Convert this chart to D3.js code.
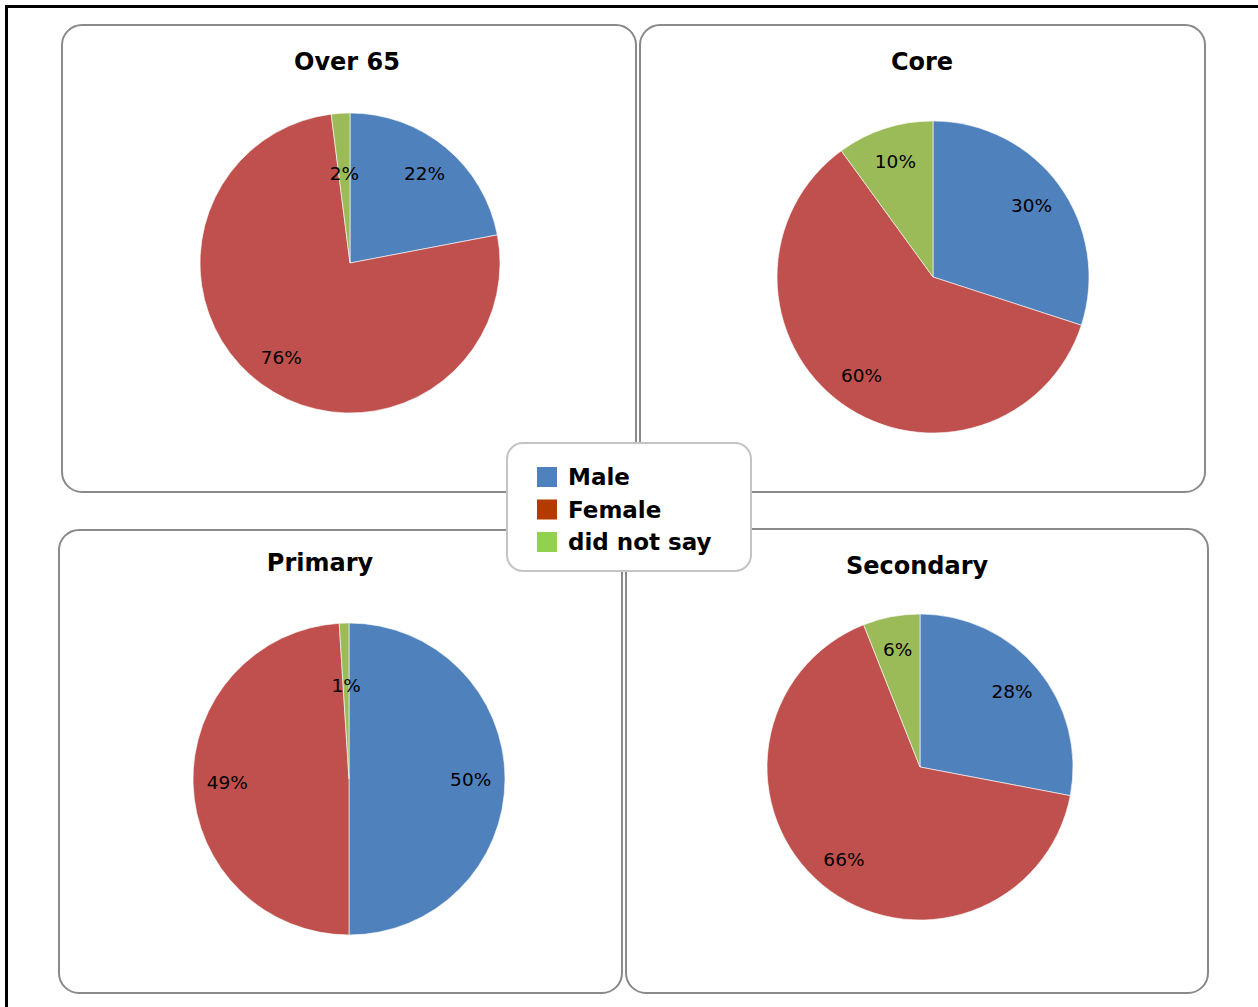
<!DOCTYPE html>
<html>
<head>
<meta charset="utf-8">
<script src="https://cdn.jsdelivr.net/npm/d3@7"></script>
<style>
  html, body { margin: 0; padding: 0; background: #fff; }
  svg { display: block; }
  text { font-family: "DejaVu Sans", Verdana, sans-serif; }
</style>
</head>
<body>
<svg id="chart" width="1258" height="1007"></svg>
<script>
// Gender split of respondents, per group (percent)
const groups = ["Over 65", "Core", "Primary", "Secondary"];
const seriesNames = ["Male", "Female", "did not say"];
const male = [22, 30, 50, 28];
const female = [76, 60, 49, 66];
const didNotSay = [2, 10, 1, 6];

// Slice and legend colours
const sliceColors = ["#4F81BD", "#C0504D", "#9BBB59"];
const legendColors = ["#4F81BD", "#B33A00", "#92D050"];

// Panel frames, pie placement and title anchors
const panels = [
  { x: 62, y: 25, w: 574, h: 467, cx: 350, cy: 263, r: 150, tx: 347, ty: 70 },
  { x: 640, y: 25, w: 565, h: 467, cx: 933, cy: 277, r: 156, tx: 922, ty: 70 },
  { x: 59, y: 530, w: 563, h: 463, cx: 349, cy: 779, r: 156, tx: 320, ty: 571 },
  { x: 626, y: 529, w: 582, h: 464, cx: 920, cy: 767, r: 153, tx: 917, ty: 574 }
];

const svg = d3.select("#chart");

// Outer frame
svg.append("rect")
  .attr("x", 6.5).attr("y", 6.5)
  .attr("width", 1300).attr("height", 1050)
  .attr("fill", "none").attr("stroke", "#000").attr("stroke-width", 3);

const pie = d3.pie().sort(null).value(d => d.value);
const pct = d3.format(".0%");

groups.forEach((name, i) => {
  const p = panels[i];
  const values = [male[i], female[i], didNotSay[i]];
  const data = values.map((v, k) => ({ name: seriesNames[k], value: v }));
  const total = d3.sum(values);

  const g = svg.append("g");

  g.append("rect")
    .attr("x", p.x).attr("y", p.y)
    .attr("width", p.w).attr("height", p.h)
    .attr("rx", 20).attr("ry", 20)
    .attr("fill", "#fff")
    .attr("stroke", "#8a8a8a").attr("stroke-width", 2);

  g.append("text")
    .attr("x", p.tx).attr("y", p.ty)
    .attr("text-anchor", "middle")
    .attr("font-size", 24).attr("font-weight", "bold")
    .attr("fill", "#000")
    .text(name);

  const arc = d3.arc().innerRadius(0).outerRadius(p.r);
  const arcs = pie(data);

  const pg = g.append("g").attr("transform", `translate(${p.cx},${p.cy})`);

  pg.selectAll("path")
    .data(arcs)
    .join("path")
    .attr("d", arc)
    .attr("fill", (d, k) => sliceColors[k])
    .attr("stroke", "#fff").attr("stroke-width", 0.6);

  // Labels sit inside each slice; very thin slices get pulled toward the centre
  pg.selectAll("text")
    .data(arcs)
    .join("text")
    .attr("transform", d => {
      const share = d.data.value / total;
      const rr = p.r * (share < 0.05 ? 0.6 : 0.78);
      const a = (d.startAngle + d.endAngle) / 2;
      return `translate(${Math.sin(a) * rr},${-Math.cos(a) * rr})`;
    })
    .attr("text-anchor", "middle")
    .attr("dy", "0.36em")
    .attr("font-size", 18.5)
    .attr("fill", "#000")
    .text(d => pct(d.data.value / total));
});

// Legend
const lg = svg.append("g");
lg.append("rect")
  .attr("x", 507).attr("y", 443)
  .attr("width", 244).attr("height", 128)
  .attr("rx", 16).attr("ry", 16)
  .attr("fill", "#fff")
  .attr("stroke", "#c4c4c4").attr("stroke-width", 2);

const rowY = d3.scalePoint().domain(seriesNames).range([477, 542]);

const rows = lg.selectAll("g.row")
  .data(seriesNames)
  .join("g")
  .attr("class", "row")
  .attr("transform", d => `translate(537,${rowY(d)})`);

rows.append("rect")
  .attr("x", 0).attr("y", -10)
  .attr("width", 20).attr("height", 20)
  .attr("fill", (d, k) => legendColors[k]);

rows.append("text")
  .attr("x", 31).attr("y", 0)
  .attr("dy", "0.36em")
  .attr("font-size", 23).attr("font-weight", "bold")
  .attr("fill", "#000")
  .text(d => d);
</script>
</body>
</html>
